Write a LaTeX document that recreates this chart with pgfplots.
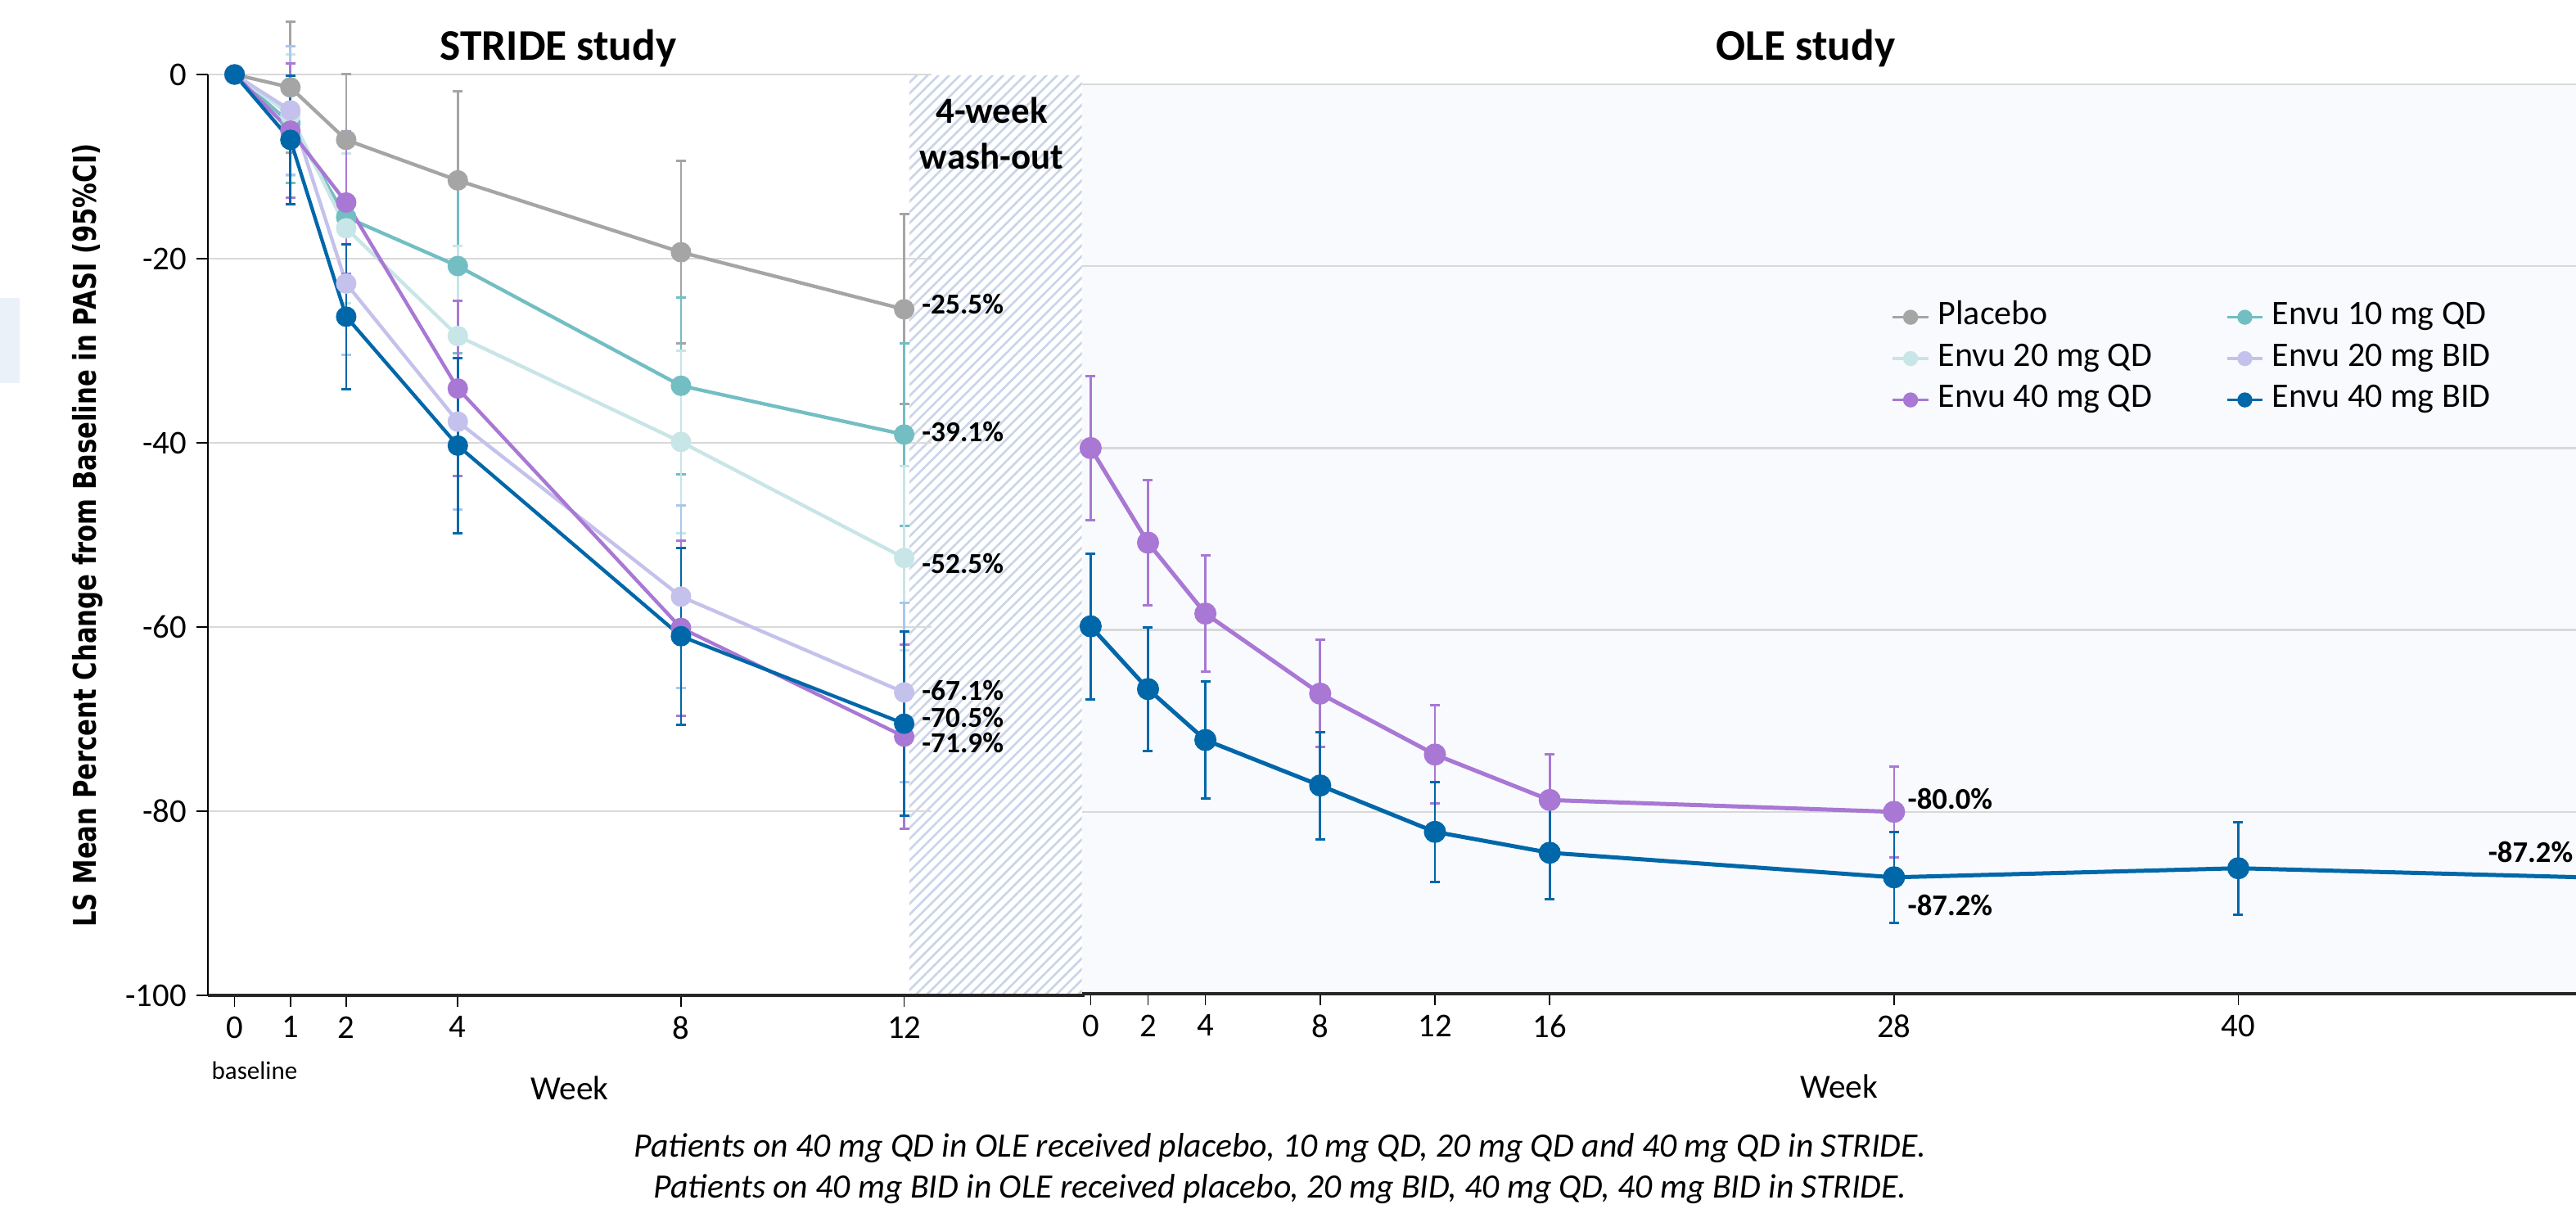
\documentclass[border=0pt]{standalone}
\usepackage{fontspec}
\setmainfont{Carlito}
\newfontfamily\ylabfont{DejaVu Sans}[FakeStretch=0.8]
\usepackage{pgfplots}
\pgfplotsset{compat=1.18}
\usetikzlibrary{patterns.meta}
\definecolor{cPla}{HTML}{A5A5A5}
\definecolor{cTen}{HTML}{72BEC3}
\definecolor{cTwe}{HTML}{C8E5E7}
\definecolor{cFor}{HTML}{A977D4}
\definecolor{cBtw}{HTML}{C4C2EC}
\definecolor{cBfo}{HTML}{0067A9}
\definecolor{eBtw}{HTML}{A8C8EB}
\definecolor{gridgray}{HTML}{D9D9D9}
\definecolor{olebg}{HTML}{F8FAFD}
\definecolor{hatchc}{HTML}{CAD5E8}
\definecolor{leftbox}{HTML}{EAF1F9}
\pgfplotsset{
  sPla/.style={color=cPla, line width=1.3pt, mark=*, mark size=3.1pt, mark options={solid}},
  sTen/.style={color=cTen, line width=1.3pt, mark=*, mark size=3.1pt, mark options={solid}},
  sTwe/.style={color=cTwe, line width=1.3pt, mark=*, mark size=3.1pt, mark options={solid}},
  sBtw/.style={color=cBtw, line width=1.3pt, mark=*, mark size=3.1pt, mark options={solid}},
  sFor/.style={color=cFor, line width=1.3pt, mark=*, mark size=3.1pt, mark options={solid}},
  sBfo/.style={color=cBfo, line width=1.3pt, mark=*, mark size=3.1pt, mark options={solid}},
  eb/.style={error bars/y dir=both, error bars/y explicit,
    error bars/error mark=-,
    error bars/error bar style={#1, line width=0.8pt},
    error bars/error mark options={#1, rotate=90, line width=0.9pt, mark size=1.8pt}},
  common/.style={scale only axis, anchor=south west, ymin=-100, ymax=0,
    axis x line*=bottom, axis y line*=left,
    ytick={0,-20,-40,-60,-80,-100},
    ymajorgrids, major grid style={draw=gridgray, line width=0.75pt},
    tick align=outside, major tick length=4.2pt,
    tick style={black, line width=0.5pt},
    x axis line style={line width=1.3pt, black!85},
    tick label style={font=\fontsize{12.2}{14}\selectfont}},
}
\begin{document}
\begin{tikzpicture}
\path[use as bounding box] (0,0) rectangle (944.1pt,442.8pt);
\clip (0,0) rectangle (944.1pt,442.8pt);
\begin{scope}[x=0.3pt,y=-0.3pt,yshift=442.8pt]
  \fill[leftbox] (0,364) rectangle (24,468);
  \fill[pattern={Lines[angle=45,distance=2.8pt,line width=0.8pt]}, pattern color=hatchc] (1111,93) rectangle (1321.5,1216);
\end{scope}

% STRIDE axis
\begin{axis}[common,
  at={(76.08pt,78pt)}, width=265.32pt, height=337.5pt,
  xmin=-0.484, xmax=12.49,
  xtick={0,1,2,4,8,12}, xticklabels={0,1,2,4,8,12},
  yticklabels={0,-20,-40,-60,-80,-100},
  y axis line style={line width=0.6pt, black},
  clip=false]
\addplot[sPla, eb=cPla] coordinates {(0,0) (1,-1.4) +- (0,7.1) (2,-7.1) += (0,7.1) -= (0,7.6) (4,-11.5) +- (0,9.7) (8,-19.3) +- (0,9.9) (12,-25.5) +- (0,10.3)};
\addplot[sTen, eb=cTen] coordinates {(0,0) (1,-5.3) +- (0,6.5) (2,-15.5) +- (0,8.0) (4,-20.8) +- (0,9.5) (8,-33.8) +- (0,9.6) (12,-39.1) +- (0,9.9)};
\addplot[sTwe, eb=cTwe] coordinates {(0,0) (1,-4.4) +- (0,6.6) (2,-16.7) +- (0,8.1) (4,-28.4) +- (0,9.8) (8,-39.9) +- (0,9.9) (12,-52.5) +- (0,10.0)};
\addplot[sBtw, eb=eBtw] coordinates {(0,0) (1,-3.9) +- (0,7.0) (2,-22.7) +- (0,7.7) (4,-37.7) +- (0,9.5) (8,-56.7) +- (0,9.9) (12,-67.1) +- (0,9.7)};
\addplot[sFor, eb=cFor] coordinates {(0,0) (1,-6.1) +- (0,7.3) (2,-13.9) +- (0,7.7) (4,-34.1) +- (0,9.5) (8,-60.1) +- (0,9.5) (12,-71.9) +- (0,10.0)};
\addplot[sBfo, eb=cBfo] coordinates {(0,0) (1,-7.1) +- (0,7.0) (2,-26.3) +- (0,7.85) (4,-40.3) +- (0,9.5) (8,-61.0) +- (0,9.6) (12,-70.5) +- (0,10.0)};
\begin{scope}[every node/.style={anchor=west, inner sep=0pt, font=\bfseries\fontsize{10.6}{12}\selectfont}]
\node at (axis cs:12.31,-24.95) {-25.5\%};
\node at (axis cs:12.31,-38.84) {-39.1\%};
\node at (axis cs:12.31,-53.07) {-52.5\%};
\node at (axis cs:12.31,-66.9) {-67.1\%};
\node at (axis cs:12.31,-69.85) {-70.5\%};
\node at (axis cs:12.31,-72.6) {-71.9\%};
\end{scope}
\end{axis}

% OLE axis
\begin{axis}[common,
  at={(396.45pt,78.6pt)}, width=547.65pt, height=333.3pt,
  xmin=-0.31, xmax=51.77,
  axis background/.style={fill=olebg},
  xtick={0,2,4,8,12,16,28,40}, xticklabels={0,2,4,8,12,16,28,40},
  yticklabels={}, y axis line style={draw=none}, ytick style={draw=none},
  legend columns=2, legend cell align=left,
  legend image code/.code={\draw[#1, line width=1.1pt, mark size=2.2pt, mark repeat=2, mark phase=2] plot coordinates {(0pt,0pt) (6.5pt,0pt) (13pt,0pt)};},
  legend style={at={(0.5418,0.7611)}, anchor=north west, draw=none, fill=none,
    inner sep=0pt, outer sep=0pt, row sep=3.65pt, column sep=3pt,
    nodes={inner sep=0pt, text height=8.5pt, text depth=3pt, font=\fontsize{12.6}{15}\selectfont},
    /tikz/every even column/.append style={column sep=27pt}},
  ]
\addlegendimage{sPla}\addlegendentry{Placebo}
\addlegendimage{sTen}\addlegendentry{Envu 10 mg QD}
\addlegendimage{sTwe}\addlegendentry{Envu 20 mg QD}
\addlegendimage{sBtw}\addlegendentry{Envu 20 mg BID}
\addlegendimage{sFor}\addlegendentry{Envu 40 mg QD}
\addlegendimage{sBfo}\addlegendentry{Envu 40 mg BID}
\addplot[sFor, line width=1.5pt, mark size=3.3pt, eb=cFor, forget plot] coordinates {(0,-40.0) +- (0,7.9) (2,-50.4) +- (0,6.9) (4,-58.2) +- (0,6.4) (8,-67.0) +- (0,5.9) (12,-73.7) +- (0,5.4) (16,-78.7) +- (0,5.0) (28,-80.0) +- (0,5.0)};
\addplot[sBfo, line width=1.5pt, mark size=3.3pt, eb=cBfo, forget plot] coordinates {(0,-59.6) +- (0,8.0) (2,-66.5) +- (0,6.8) (4,-72.1) +- (0,6.4) (8,-77.1) +- (0,5.9) (12,-82.2) +- (0,5.5) (16,-84.5) +- (0,5.1) (28,-87.2) +- (0,5.0) (40,-86.2) +- (0,5.1) (52,-87.2) +- (0,5.0)};
\begin{scope}[every node/.style={anchor=west, inner sep=0pt, font=\bfseries\fontsize{11}{13}\selectfont}]
\node at (axis cs:28.46,-78.6) {-80.0\%};
\node at (axis cs:28.46,-90.3) {-87.2\%};
\node at (axis cs:48.69,-84.4) {-87.2\%};
\end{scope}
\end{axis}

\begin{scope}[x=0.3pt,y=-0.3pt,yshift=442.8pt]
  \draw[line width=1.3pt, black!85] (1138,1216) -- (1325,1216);
  \node[rotate=90, anchor=base, inner sep=0pt, font=\ylabfont\bfseries\fontsize{11.5}{13}\selectfont] at (117,654) {LS Mean Percent Change from Baseline in PASI (95\%CI)};
  \node[anchor=base, inner sep=0pt, font=\bfseries\fontsize{16}{19}\selectfont] at (682,74) {STRIDE study};
  \node[anchor=base, inner sep=0pt, font=\bfseries\fontsize{16}{19}\selectfont] at (2206,74) {OLE study};
  \node[anchor=base, inner sep=0pt, font=\bfseries\fontsize{13.5}{16}\selectfont] at (1211.5,150) {4-week};
  \node[anchor=base, inner sep=0pt, font=\bfseries\fontsize{13.5}{16}\selectfont] at (1211.5,206.7) {wash-out};
  \node[anchor=base, inner sep=0pt, font=\fontsize{9.3}{11}\selectfont] at (311,1318) {baseline};
  \node[anchor=base, inner sep=0pt, font=\fontsize{12.4}{15}\selectfont] at (696,1343) {Week};
  \node[anchor=base, inner sep=0pt, font=\fontsize{12.4}{15}\selectfont] at (2246.6,1341.7) {Week};
  \node[anchor=base, inner sep=0pt, font=\itshape\fontsize{12.5}{15}\selectfont] at (1564,1413) {Patients on 40 mg QD in OLE received placebo, 10 mg QD, 20 mg QD and 40 mg QD in STRIDE.};
  \node[anchor=base, inner sep=0pt, font=\itshape\fontsize{12.5}{15}\selectfont] at (1564,1463) {Patients on 40 mg BID in OLE received placebo, 20 mg BID, 40 mg QD, 40 mg BID in STRIDE.};
\end{scope}
\end{tikzpicture}
\end{document}
